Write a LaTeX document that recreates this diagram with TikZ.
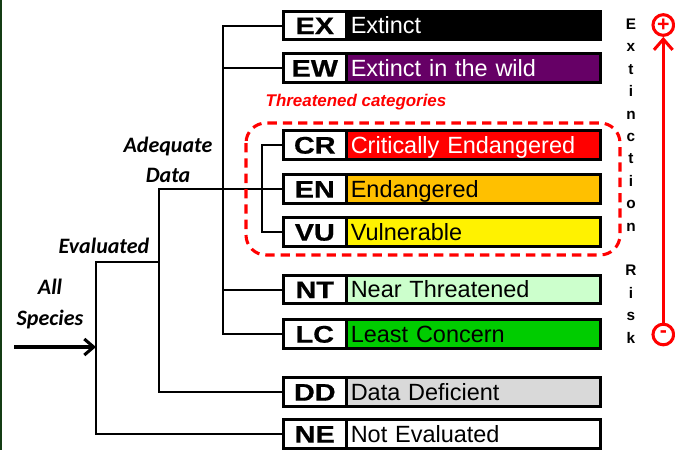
\documentclass[tikz,border=0pt]{standalone}
\usepackage{fontspec}
\setmainfont{Liberation Sans}
\newfontfamily\notefont{Carlito}
\newfontfamily\codefont[FakeStretch=1.2, FakeBold=0.6]{Liberation Sans}
\usetikzlibrary{positioning,arrows.meta}
\definecolor{iucnEW}{RGB}{102,0,102}
\definecolor{iucnEN}{RGB}{255,192,0}
\definecolor{iucnNT}{RGB}{204,255,204}
\definecolor{iucnLC}{RGB}{0,204,0}
\definecolor{iucnDD}{RGB}{217,217,217}
\definecolor{sideline}{RGB}{20,60,20}
\begin{document}
\begin{tikzpicture}[x=0.75pt, y=-0.75pt,
    codebox/.style={draw, line width=2.3pt, fill=white, minimum width=47pt, minimum height=21.5pt, inner sep=0pt, outer sep=0pt, font=\codefont\bfseries\fontsize{18}{18}\selectfont, text height=12.9pt, text depth=0pt},
    catbox/.style={draw, line width=2.3pt, minimum height=21.5pt, inner xsep=3.5pt, inner ysep=0pt, outer sep=0pt, text width=183.5pt, align=left, font=\fontsize{17.6}{18}\selectfont, text height=12.6pt, text depth=0pt},
    branch/.style={line width=1.5pt},
    notelabel/.style={font=\notefont\bfseries\itshape\fontsize{16.5}{23}\selectfont, align=center},
    riskend/.style={circle, draw=red, line width=2.3pt, minimum size=15.5pt, inner sep=0pt, text=red, font=\bfseries\fontsize{16}{16}\selectfont}]
      \useasboundingbox (0,0) rectangle (675,450);
      \draw[sideline, line width=1.5pt] (1,0) -- (1,450);

      \foreach \name/\abbr/\desc/\bg/\fg/\ypos in {
        ex/EX/Extinct/black/white/25.5, ew/EW/Extinct in the wild/iucnEW/white/68,
        cr/CR/Critically Endangered/red/white/145, en/EN/Endangered/iucnEN/black/189,
        vu/VU/Vulnerable/yellow/black/232, nt/NT/Near Threatened/iucnNT/black/289.5,
        lc/LC/Least Concern/iucnLC/black/334, dd/DD/Data Deficient/iucnDD/black/392,
        ne/NE/Not Evaluated/white/black/434}
      {
        \node[codebox] (\name) at (314.8,\ypos) {\abbr};
        \node[catbox, fill=\bg, text=\fg, right=0pt of \name] (\name-txt) {\desc};
      }

      \coordinate (trunk) at (222.5,189);
      \coordinate (threat) at (262,189);
      \coordinate (adequate) at (159,189);
      \coordinate (evaluated) at (96,262);
      \coordinate (start) at (14,347);
      \draw[branch] (ex.west) -| (trunk) |- (lc.west);
      \draw[branch] (ew.west) -- (ew.west -| trunk);
      \draw[branch] (nt.west) -- (nt.west -| trunk);
      \draw[branch] (cr.west) -| (threat) |- (vu.west);
      \draw[branch] (en.west) -- (adequate) |- (dd.west);
      \draw[branch] (evaluated -| adequate) -- (evaluated) |- (ne.west);
      \draw[branch, line width=2.3pt, -{Straight Barb[length=7pt, width=12pt]}] (start) -- (start -| evaluated);

      \node[notelabel] (adequate-lbl) at (168,160) {Adequate\\Data};
      \node[notelabel] (evaluated-lbl) at (104,246) {Evaluated};
      \node[notelabel] (all-lbl) at (50,304) {All\\Species};

      \node[text=red, font=\bfseries\itshape\fontsize{12.7}{13}\selectfont] (threat-lbl) at (356,102) {Threatened categories};
      \draw[red, line width=2.3pt, dash pattern=on 7pt off 4.5pt, rounded corners=15pt] (246,123) rectangle (620,255);

      \node[riskend] (most) at (663.3,25) {+};
      \node[riskend] (least) at (663.3,334.5) {-};
      \draw[red, line width=2.3pt, -{Straight Barb[length=8pt, width=14pt]}] (least) -- (most);
      \foreach \ch/\k in {E/0,x/1,t/2,i/3,n/4,c/5,t/6,i/7,o/8,n/9,R/11,i/12,s/13,k/14}
        \node[anchor=base, inner sep=0pt, font=\bfseries\fontsize{11.5}{12}\selectfont] (risk\k) at (631,29.5+22.4*\k) {\ch};
    \end{tikzpicture}
\end{document}
